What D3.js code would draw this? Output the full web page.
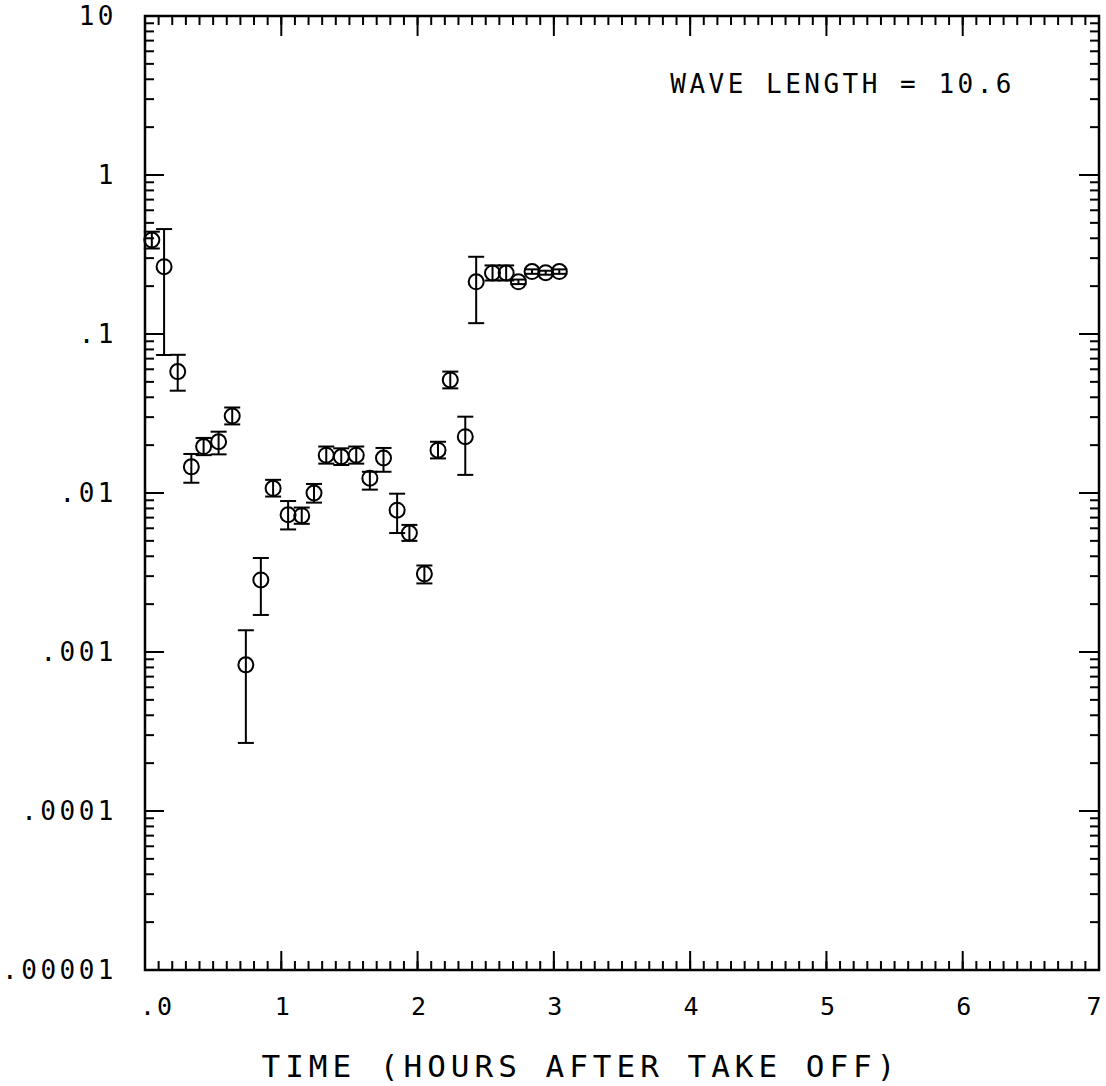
<!DOCTYPE html>
<html>
<head>
  <meta charset="utf-8">
  <script src="https://d3js.org/d3.v7.min.js"></script>
  <title>Wave length 10.6</title>
  <style>
    body { margin: 0; background: white; }
    text { font-family: "DejaVu Sans Mono", monospace; fill: black; }
  </style>
</head>
<body>
  <div class="chart"></div>
  <script>
    // hours after take off
    var times = [0.05, 0.14, 0.24, 0.34, 0.43, 0.54, 0.64, 0.74, 0.85, 0.94,
                 1.05, 1.15, 1.24, 1.33, 1.44, 1.55, 1.65, 1.75, 1.85, 1.94,
                 2.05, 2.15, 2.24, 2.35, 2.43, 2.55, 2.65, 2.74, 2.84, 2.94, 3.04];
    var values = [0.39, 0.265, 0.058, 0.0146, 0.0196, 0.021, 0.0305, 0.00083, 0.00284, 0.0107,
                  0.0073, 0.0072, 0.010, 0.0173, 0.0169, 0.0173, 0.0124, 0.0166, 0.0078, 0.0056,
                  0.0031, 0.0186, 0.0514, 0.0226, 0.213, 0.242, 0.242, 0.213, 0.247, 0.243, 0.247];
    var errHi = [0.44, 0.457, 0.074, 0.0176, 0.0222, 0.0243, 0.0345, 0.00137, 0.0039, 0.0121,
                 0.0089, 0.0081, 0.0114, 0.0196, 0.0191, 0.0196, 0.0136, 0.0192, 0.0099, 0.0063,
                 0.0035, 0.021, 0.058, 0.0302, 0.306, 0.27, 0.27, 0.22, 0.255, 0.25, 0.255];
    var errLo = [0.345, 0.0738, 0.044, 0.0116, 0.0173, 0.0175, 0.027, 0.000268, 0.00171, 0.0095,
                 0.0059, 0.0064, 0.0087, 0.0153, 0.015, 0.0153, 0.0105, 0.0136, 0.0056, 0.005,
                 0.0027, 0.0165, 0.0455, 0.013, 0.117, 0.217, 0.217, 0.206, 0.239, 0.236, 0.239];

    var xTicks = [0, 1, 2, 3, 4, 5, 6, 7];
    var xTickLabels = [".0", "1", "2", "3", "4", "5", "6", "7"];
    var yTicks = [0.00001, 0.0001, 0.001, 0.01, 0.1, 1, 10];
    var yTickLabels = [".00001", ".0001", ".001", ".01", ".1", "1", "10"];

    var W = 1106, H = 1086;
    var mLeft = 145, mRight = 1099, mTop = 16, mBottom = 970;

    var x = d3.scaleLinear().domain([0, 7]).range([mLeft, mRight]);
    var y = d3.scaleLog().domain([0.00001, 10]).range([mBottom, mTop]);

    var svg = d3.select('.chart').append('svg')
      .attr('width', W)
      .attr('height', H);

    var minorX = d3.range(0, 71).map(function(i) { return i / 10; });
    var minorY = y.ticks();

    // inward ticks, drawn from the scales
    var tk = svg.append('g')
      .attr('stroke', 'black')
      .attr('stroke-width', 2);

    function xTicksAt(vals, y0, len) {
      tk.append('g').selectAll('line').data(vals).enter().append('line')
        .attr('x1', function(d) { return x(d); })
        .attr('x2', function(d) { return x(d); })
        .attr('y1', y0)
        .attr('y2', y0 + len);
    }
    function yTicksAt(vals, x0, len) {
      tk.append('g').selectAll('line').data(vals).enter().append('line')
        .attr('y1', function(d) { return y(d); })
        .attr('y2', function(d) { return y(d); })
        .attr('x1', x0)
        .attr('x2', x0 + len);
    }

    xTicksAt(minorX, mBottom, -9);
    xTicksAt(xTicks, mBottom, -19);
    xTicksAt(minorX, mTop, 9);
    xTicksAt(xTicks, mTop, 20);
    yTicksAt(minorY, mLeft, 9);
    yTicksAt(yTicks, mLeft, 19);
    yTicksAt(minorY, mRight, -9);
    yTicksAt(yTicks, mRight, -20);

    // frame
    svg.append('rect')
      .attr('x', mLeft).attr('y', mTop)
      .attr('width', mRight - mLeft).attr('height', mBottom - mTop)
      .attr('fill', 'none')
      .attr('stroke', 'black')
      .attr('stroke-width', 2.5);

    // tick labels
    svg.selectAll('.ylab')
      .data(yTicks)
      .enter().append('text')
      .attr('class', 'ylab')
      .attr('x', 117)
      .attr('y', function(d) { return y(d); })
      .attr('dy', '0.36em')
      .attr('text-anchor', 'end')
      .style('font-size', '26px')
      .style('letter-spacing', '3.5px')
      .text(function(d, i) { return yTickLabels[i]; });

    svg.selectAll('.xlab')
      .data(xTicks)
      .enter().append('text')
      .attr('class', 'xlab')
      .attr('x', function(d) { return d === 0 ? x(d) + 12 : (d === 7 ? x(d) - 4 : x(d) + 2); })
      .attr('y', 1015)
      .attr('text-anchor', 'middle')
      .style('font-size', '25px')
      .style('letter-spacing', '2px')
      .text(function(d, i) { return xTickLabels[i]; });

    svg.append('text')
      .attr('x', 581)
      .attr('y', 1077)
      .attr('text-anchor', 'middle')
      .style('font-size', '31px')
      .style('letter-spacing', '5px')
      .text('TIME (HOURS AFTER TAKE OFF)');

    svg.append('text')
      .attr('x', 1015)
      .attr('y', 93)
      .attr('text-anchor', 'end')
      .style('font-size', '26px')
      .style('letter-spacing', '3.5px')
      .text('WAVE LENGTH = 10.6');

    // error bars and points
    var pts = times.map(function(t, i) {
      return {t: t, v: values[i], hi: errHi[i], lo: errLo[i]};
    });

    var cap = 8;
    var eb = svg.append('g')
      .attr('stroke', 'black')
      .attr('stroke-width', 2)
      .attr('fill', 'none');

    eb.selectAll('.bar').data(pts).enter().append('line')
      .attr('x1', function(d) { return x(d.t); })
      .attr('x2', function(d) { return x(d.t); })
      .attr('y1', function(d) { return y(d.hi); })
      .attr('y2', function(d) { return y(d.lo); });

    eb.selectAll('.capHi').data(pts).enter().append('line')
      .attr('x1', function(d) { return x(d.t) - cap; })
      .attr('x2', function(d) { return x(d.t) + cap; })
      .attr('y1', function(d) { return y(d.hi); })
      .attr('y2', function(d) { return y(d.hi); });

    eb.selectAll('.capLo').data(pts).enter().append('line')
      .attr('x1', function(d) { return x(d.t) - cap; })
      .attr('x2', function(d) { return x(d.t) + cap; })
      .attr('y1', function(d) { return y(d.lo); })
      .attr('y2', function(d) { return y(d.lo); });

    eb.selectAll('circle').data(pts).enter().append('circle')
      .attr('cx', function(d) { return x(d.t); })
      .attr('cy', function(d) { return y(d.v); })
      .attr('r', 7.5);
  </script>
</body>
</html>
